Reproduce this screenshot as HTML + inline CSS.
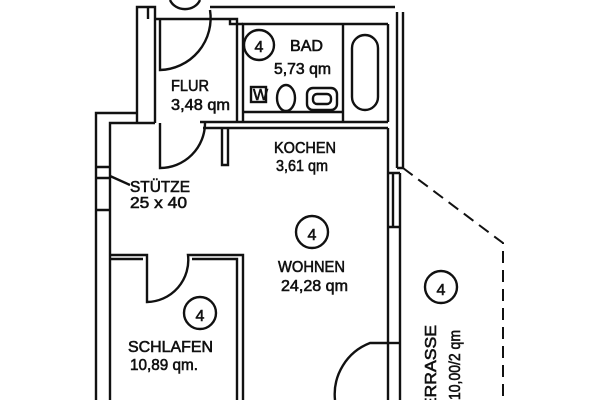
<!DOCTYPE html>
<html><head><meta charset="utf-8"><style>
html,body{margin:0;padding:0;background:#fff}
svg{display:block}
text{font-family:"Liberation Sans Narrow","Liberation Sans",sans-serif;font-size:16px;fill:#111;stroke:#111;stroke-width:0.6}
</style></head><body>
<svg width="600" height="400" viewBox="0 0 600 400" xmlns="http://www.w3.org/2000/svg">
<rect width="600" height="400" fill="#fff"/>
<g fill="none" stroke="#111" stroke-width="2.4">
<path d="M137 122 V7 H155 V19"/>
<path d="M155 19 V123 M137 113 H96 V400 M110 400 V123 H155"/>
<path d="M148 7 V19"/>
<path d="M210 7 H395"/>
<path d="M155 19 H237 V122 M243 122 V24 H388"/>
<path d="M230 19 V24 H243"/>
<path d="M388 24 V122 M343 24 V122 M243 112 H343 M243 122 H388"/>
<rect x="251" y="87" width="15" height="15"/>
<ellipse cx="286" cy="98" rx="9" ry="13"/>
<rect x="307" y="88" width="30" height="22" rx="6"/>
<rect x="313" y="94" width="18" height="10" rx="4"/>
<rect x="352" y="35" width="26" height="75" rx="13"/>
<path d="M203 128 H388 M200 122 H243"/>
<path d="M222 128 V165 H228 V128"/>
<path d="M388 128 V400 M400 173 V400"/>
<path d="M397 12 V168 M403 12 V168 M397 168 H403"/>
<path d="M388 173 H400 M388 227 H400 M393 173 V227"/>
<path d="M388 343 H400"/>
<path d="M96 167 H110 M96 178 H110 M96 210 H110"/>
<path d="M110 176 L130 185"/>
<path d="M160 19 V70 A52 52 0 0 0 210 10"/>
<path d="M170 0 A16 14 0 0 0 200 0"/>
<path d="M160 123 V168 A45 45 0 0 0 205 123"/>
<path d="M110 255 H147 V302 A42 42 0 0 0 188 255 H243 V400"/>
<path d="M110 259 H143 M192 259 H237 V400"/>
<path d="M388 343 H370 A55 55 0 0 0 335 400"/>
<circle cx="259" cy="45" r="15"/>
<circle cx="312" cy="232" r="16"/>
<circle cx="441" cy="287" r="16"/>
<circle cx="200" cy="313" r="16"/>
</g>
<path d="M403 168 L503 243 V400" fill="none" stroke="#111" stroke-width="2" stroke-dasharray="12 7"/>
<text x="253" y="100" font-size="12" stroke-width="0.3">W</text>
<text x="259" y="52" text-anchor="middle" font-size="20">4</text>
<text x="312" y="240" text-anchor="middle" font-size="20">4</text>
<text x="441" y="295" text-anchor="middle" font-size="20">4</text>
<text x="200" y="321" text-anchor="middle" font-size="20">4</text>
<text x="290" y="51" textLength="33" lengthAdjust="spacingAndGlyphs">BAD</text>
<text x="274" y="74" textLength="57" lengthAdjust="spacingAndGlyphs">5,73 qm</text>
<text x="171" y="91" textLength="38" lengthAdjust="spacingAndGlyphs">FLUR</text>
<text x="171" y="110" textLength="59" lengthAdjust="spacingAndGlyphs">3,48 qm</text>
<text x="274" y="153" textLength="62" lengthAdjust="spacingAndGlyphs">KOCHEN</text>
<text x="276" y="171" textLength="52" lengthAdjust="spacingAndGlyphs">3,61 qm</text>
<text x="130" y="192" textLength="60" lengthAdjust="spacingAndGlyphs">STÜTZE</text>
<text x="130" y="208" textLength="57" lengthAdjust="spacingAndGlyphs">25 x 40</text>
<text x="278" y="272" textLength="67" lengthAdjust="spacingAndGlyphs">WOHNEN</text>
<text x="281" y="291" textLength="67" lengthAdjust="spacingAndGlyphs">24,28 qm</text>
<text x="128" y="352" textLength="85" lengthAdjust="spacingAndGlyphs">SCHLAFEN</text>
<text x="130" y="370" textLength="68" lengthAdjust="spacingAndGlyphs">10,89 qm.</text>
<text transform="translate(436,420) rotate(-90)" textLength="95" lengthAdjust="spacingAndGlyphs">TERRASSE</text>
<text transform="translate(460,400) rotate(-90)" textLength="70" lengthAdjust="spacingAndGlyphs">10,00/2 qm</text>
</svg>
</body></html>
